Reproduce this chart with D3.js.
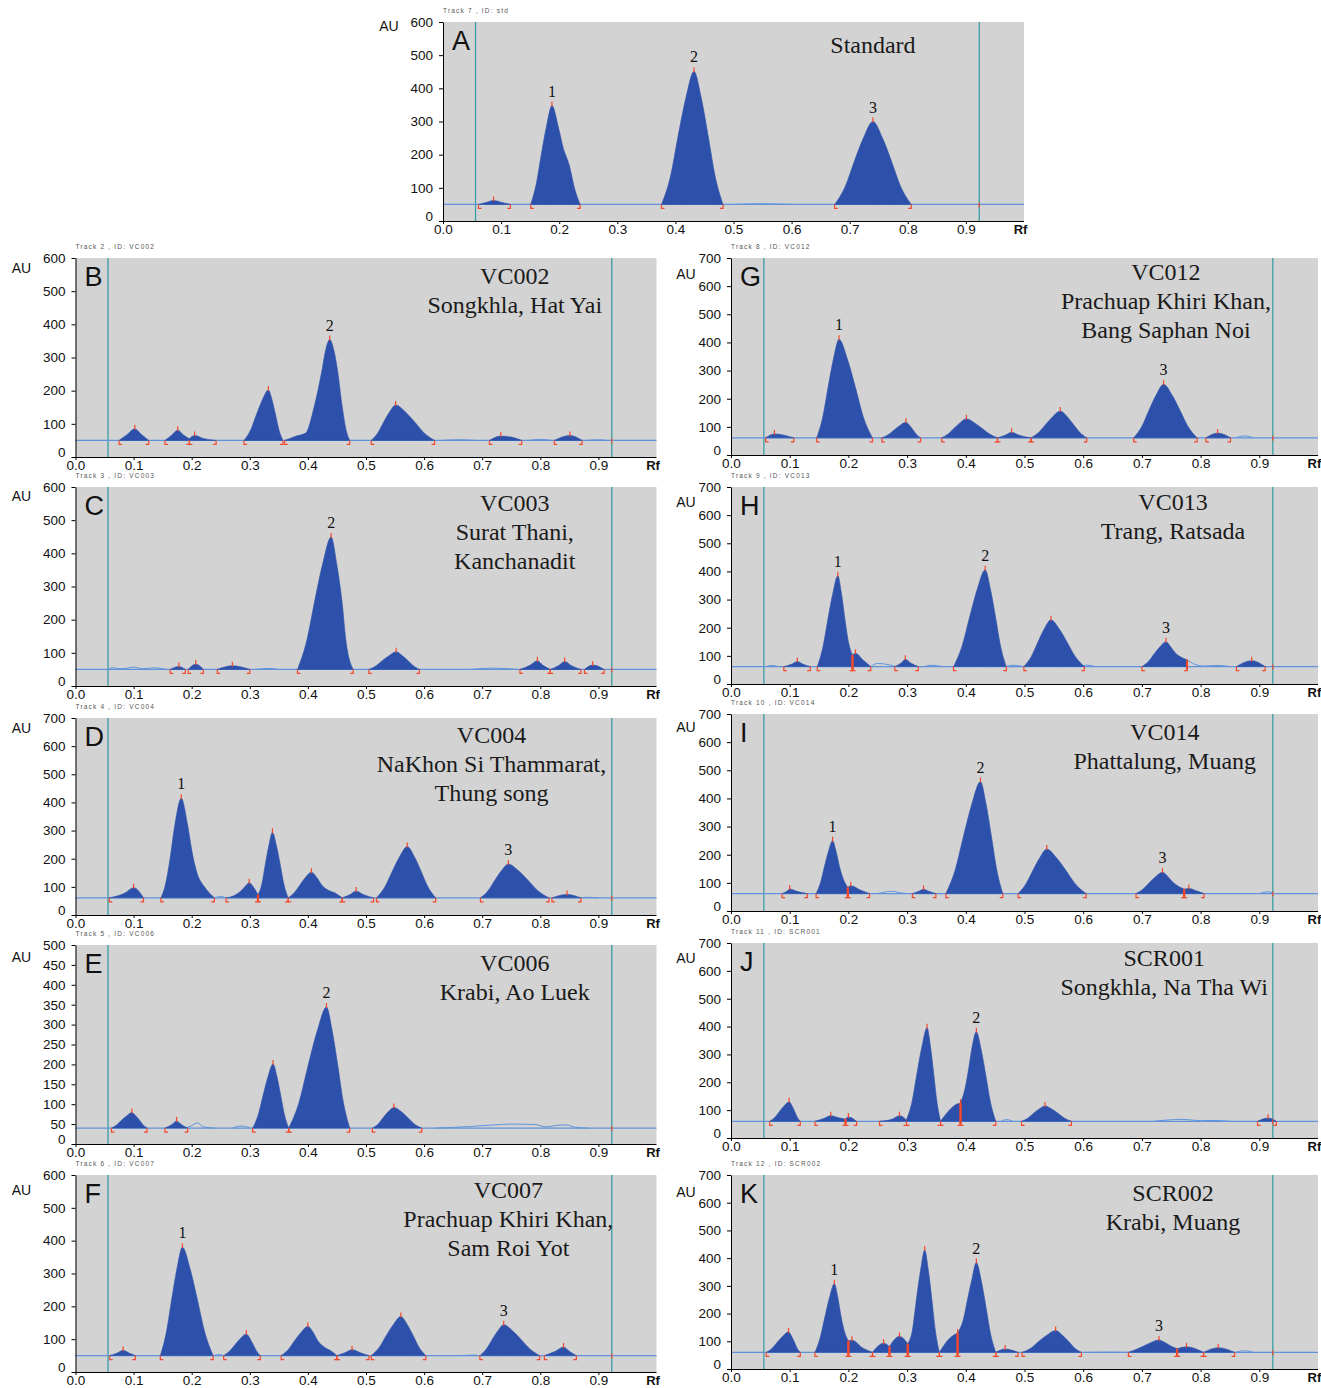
<!DOCTYPE html>
<html>
<head>
<meta charset="utf-8">
<script src="https://cdn.jsdelivr.net/npm/d3@7"></script>
<style>
  body { margin: 0; background: #fff; }
  svg { display: block; }
</style>
</head>
<body>
<div id="chart"></div>
<script>
// ---- data ----
const panelIds = ['A', 'B', 'C', 'D', 'E', 'F', 'G', 'H', 'I', 'J', 'K'];
const trackLabels = [
  'Track 7 , ID: std', 'Track 2 , ID: VC002', 'Track 3 , ID: VC003', 'Track 4 , ID: VC004',
  'Track 5 , ID: VC006', 'Track 6 , ID: VC007', 'Track 8 , ID: VC012', 'Track 9 , ID: VC013',
  'Track 10 , ID: VC014', 'Track 11 , ID: SCR001', 'Track 12 , ID: SCR002'
];
const titles = [
  ['Standard'],
  ['VC002', 'Songkhla, Hat Yai'],
  ['VC003', 'Surat Thani,', 'Kanchanadit'],
  ['VC004', 'NaKhon Si Thammarat,', 'Thung song'],
  ['VC006', 'Krabi, Ao Luek'],
  ['VC007', 'Prachuap Khiri Khan,', 'Sam Roi Yot'],
  ['VC012', 'Prachuap Khiri Khan,', 'Bang Saphan Noi'],
  ['VC013', 'Trang, Ratsada'],
  ['VC014', 'Phattalung, Muang'],
  ['SCR001', 'Songkhla, Na Tha Wi'],
  ['SCR002', 'Krabi, Muang']
];
const yMaxes = [600, 600, 600, 700, 500, 600, 700, 700, 700, 700, 700];
const yTickSteps = [100, 100, 100, 100, 50, 100, 100, 100, 100, 100, 100];
const baselines = [50, 50, 50, 61, 40, 50, 61, 62, 62, 60, 60];
const xTickValues = [0, 0.1, 0.2, 0.3, 0.4, 0.5, 0.6, 0.7, 0.8, 0.9];
const xTickLabels = ['0.0', '0.1', '0.2', '0.3', '0.4', '0.5', '0.6', '0.7', '0.8', '0.9'];
const trackEdges = [0.056, 0.923]; // application line / solvent front (Rf)

// each peak: [Rf, AU] points from its start marker to its end marker, optional compound tag
const peaksA = [
  { pts: [[.061, 50], [.074, 56], [.087, 62], [.1015, 56], [.116, 50]] },
  { pts: [[.151, 50], [.161, 116], [.169, 199], [.1784, 288], [.1875, 348], [.199, 280], [.207, 220], [.217, 170], [.227, 95], [.236, 50]], tag: '1' },
  { pts: [[.376, 50], [.392, 138], [.404, 250], [.418, 371], [.432, 451], [.4445, 371], [.457, 250], [.468, 138], [.482, 50]], tag: '2' },
  { pts: [[.674, 50], [.6925, 105], [.707, 175], [.7235, 250], [.74, 300], [.7565, 250], [.773, 175], [.7875, 105], [.806, 50]], tag: '3' }
];
const peaksB = [
  { pts: [[.075, 50], [.0885, 67], [.102, 85], [.114, 67], [.126, 50]] },
  { pts: [[.154, 50], [.165, 65], [.176, 81], [.186, 66], [.196, 55]] },
  { pts: [[.196, 55], [.205, 65], [.22, 56], [.242, 50]] },
  { pts: [[.29, 50], [.3018, 83], [.311, 126], [.3215, 172], [.332, 202], [.3383, 172], [.3445, 126], [.35, 83], [.357, 50]] },
  { pts: [[.36, 50], [.378, 62], [.396, 72], [.411, 153], [.4235, 255], [.431, 326], [.4375, 354], [.445, 320], [.4515, 255], [.459, 153], [.466, 80], [.472, 50]], tag: '2' },
  { pts: [[.509, 50], [.5208, 74], [.53, 104], [.5405, 136], [.551, 157], [.5678, 136], [.5845, 104], [.5992, 74], [.618, 50]] },
  { pts: [[.7125, 50], [.732, 63], [.75, 60], [.768, 50]] },
  { pts: [[.824, 50], [.851, 65], [.872, 50]] }
];
const peaksC = [
  { pts: [[.163, 50], [.178, 59], [.189, 50]] },
  { pts: [[.194, 50], [.207, 66], [.22, 50]] },
  { pts: [[.244, 50], [.27, 61], [.30, 50]] },
  { pts: [[.382, 50], [.3982, 138], [.411, 250], [.4255, 369], [.44, 449], [.4495, 369], [.459, 250], [.4654, 138], [.478, 50]], tag: '2' },
  { pts: [[.505, 50], [.5182, 62], [.5285, 77], [.5403, 92], [.552, 103], [.562, 92], [.572, 77], [.5808, 62], [.592, 50]] },
  { pts: [[.765, 50], [.783, 63], [.795, 76], [.804, 63], [.817, 50]] },
  { pts: [[.817, 50], [.832, 62], [.842, 74], [.853, 62], [.87, 50]] },
  { pts: [[.876, 50], [.89, 63], [.91, 50]] }
];
const peaksD = [
  { pts: [[.058, 61], [.085, 78], [.1, 97], [.117, 61]] },
  { pts: [[.147, 61], [.155, 110], [.162, 190], [.171, 320], [.182, 415], [.193, 320], [.201, 220], [.209, 150], [.222, 100], [.239, 61]], tag: '1' },
  { pts: [[.259, 61], [.274, 70], [.286, 88], [.293, 104], [.299, 115], [.306, 100], [.314, 72]] },
  { pts: [[.314, 72], [.321, 112], [.3265, 178], [.3328, 247], [.339, 294], [.3458, 247], [.3525, 178], [.3584, 112], [.366, 61]] },
  { pts: [[.366, 61], [.3772, 81], [.386, 106], [.396, 134], [.406, 152], [.415, 134], [.424, 106], [.435, 88], [.447, 78], [.459, 61]] },
  { pts: [[.459, 61], [.473, 73], [.483, 85], [.495, 73], [.513, 61]] },
  { pts: [[.518, 61], [.5328, 101], [.5445, 152], [.5578, 207], [.571, 243], [.5833, 207], [.5955, 152], [.6063, 101], [.62, 61]] },
  { pts: [[.697, 61], [.7104, 87], [.721, 121], [.733, 157], [.745, 181], [.7625, 157], [.78, 121], [.7954, 87], [.815, 61]], tag: '3' },
  { pts: [[.82, 61], [.846, 73], [.87, 61]] }
];
const peaksE = [
  { pts: [[.062, 40], [.0718, 49], [.0795, 60], [.0883, 71], [.097, 79], [.1035, 71], [.11, 60], [.1157, 49], [.123, 40]] },
  { pts: [[.154, 40], [.166, 49], [.174, 58], [.182, 49], [.193, 40]] },
  { pts: [[.305, 40], [.3148, 75], [.3225, 120], [.3313, 169], [.34, 201], [.3468, 169], [.3535, 120], [.3594, 75], [.367, 40]] },
  { pts: [[.367, 40], [.3852, 107], [.3995, 192], [.4158, 283], [.432, 344], [.442, 283], [.452, 192], [.4608, 107], [.472, 40]], tag: '2' },
  { pts: [[.511, 40], [.5214, 51], [.5295, 66], [.5388, 82], [.548, 92], [.56, 82], [.572, 66], [.5826, 51], [.596, 40]] }
];
const peaksF = [
  { pts: [[.059, 50], [.072, 58], [.082, 66], [.092, 58], [.103, 50]] },
  { pts: [[.146, 50], [.1566, 123], [.165, 215], [.1745, 314], [.184, 380], [.1973, 314], [.2105, 215], [.2222, 123], [.237, 50]], tag: '1' },
  { pts: [[.255, 50], [.2659, 65], [.2745, 83], [.2843, 103], [.294, 116], [.3, 103], [.306, 83], [.3113, 65], [.318, 50]] },
  { pts: [[.354, 50], [.3671, 70], [.377, 95], [.3885, 121], [.4, 139], [.409, 121], [.417, 95], [.428, 76], [.44, 64], [.45, 50]] },
  { pts: [[.45, 50], [.464, 59], [.476, 68], [.49, 59], [.505, 50]] },
  { pts: [[.509, 50], [.5233, 76], [.5345, 110], [.5473, 145], [.56, 169], [.5708, 145], [.5815, 110], [.591, 76], [.603, 50]] },
  { pts: [[.696, 50], [.7075, 71], [.7165, 97], [.7268, 125], [.737, 144], [.7525, 125], [.768, 97], [.7816, 71], [.799, 50]], tag: '3' },
  { pts: [[.807, 50], [.826, 63], [.84, 76], [.85, 63], [.862, 50]] }
];
const peaksG = [
  { pts: [[.059, 61], [.074, 75], [.107, 61]] },
  { pts: [[.146, 61], [.1566, 138], [.165, 236], [.1745, 341], [.184, 411], [.1983, 341], [.2125, 236], [.225, 138], [.241, 61]], tag: '1' },
  { pts: [[.257, 61], [.2685, 73], [.2775, 88], [.2878, 105], [.298, 116], [.3043, 105], [.3105, 88], [.316, 73], [.323, 61]] },
  { pts: [[.359, 61], [.3708, 76], [.38, 95], [.3905, 115], [.401, 129], [.4143, 115], [.4275, 95], [.4392, 76], [.454, 61]] },
  { pts: [[.454, 61], [.468, 71], [.478, 81], [.49, 71], [.511, 61]] },
  { pts: [[.511, 61], [.525, 82], [.536, 108], [.5485, 137], [.561, 156], [.5723, 137], [.5835, 108], [.5934, 82], [.606, 61]] },
  { pts: [[.686, 61], [.7003, 103], [.7115, 156], [.7243, 213], [.737, 251], [.7513, 213], [.7655, 156], [.778, 103], [.794, 61]], tag: '3' },
  { pts: [[.809, 61], [.829, 78], [.851, 61]] }
];
const peaksH = [
  { pts: [[.09, 62], [.104, 71], [.113, 80], [.122, 71], [.135, 62]] },
  { pts: [[.147, 62], [.1568, 133], [.1645, 224], [.1733, 320], [.182, 385], [.1883, 320], [.1945, 224], [.2, 150], [.207, 103]], tag: '1' },
  { pts: [[.207, 103], [.212, 109], [.225, 85], [.238, 62]] },
  { pts: [[.279, 62], [.29, 75], [.297, 88], [.306, 75], [.319, 62]] },
  { pts: [[.379, 62], [.3941, 138], [.406, 234], [.4195, 337], [.433, 406], [.442, 337], [.451, 234], [.4589, 138], [.469, 62]], tag: '2' },
  { pts: [[.499, 62], [.5119, 99], [.522, 145], [.5335, 195], [.545, 228], [.5593, 195], [.5735, 145], [.586, 99], [.602, 62]] },
  { pts: [[.70, 62], [.7115, 81], [.7205, 106], [.7308, 132], [.741, 150], [.749, 132], [.757, 110], [.767, 95], [.777, 86]], tag: '3' },
  { pts: [[.861, 62], [.887, 83], [.91, 62]] }
];
const peaksI = [
  { pts: [[.087, 62], [.095, 70], [.1, 78], [.112, 70], [.13, 62]] },
  { pts: [[.145, 62], [.1528, 103], [.159, 156], [.166, 212], [.173, 250], [.179, 212], [.185, 156], [.192, 110], [.199, 84]], tag: '1' },
  { pts: [[.199, 84], [.204, 90], [.22, 75], [.236, 62]] },
  { pts: [[.309, 62], [.32, 70], [.328, 77], [.337, 70], [.349, 62]] },
  { pts: [[.366, 62], [.3825, 150], [.3955, 261], [.4103, 380], [.425, 460], [.4345, 380], [.444, 261], [.4524, 150], [.463, 62]], tag: '2' },
  { pts: [[.489, 62], [.5027, 97], [.5135, 141], [.5258, 188], [.538, 220], [.5548, 188], [.5715, 141], [.5862, 97], [.605, 62]] },
  { pts: [[.69, 62], [.7026, 79], [.7125, 100], [.7238, 123], [.735, 138], [.744, 123], [.752, 104], [.762, 88], [.772, 78]], tag: '3' },
  { pts: [[.772, 78], [.78, 80], [.795, 70], [.806, 62]] }
];
const peaksJ = [
  { pts: [[.066, 60], [.0752, 75], [.0825, 95], [.0908, 116], [.099, 130], [.1038, 116], [.1085, 95], [.1127, 75], [.118, 60]] },
  { pts: [[.143, 60], [.158, 70], [.17, 80], [.185, 72], [.195, 68]] },
  { pts: [[.195, 68], [.2, 75], [.214, 60]] },
  { pts: [[.253, 60], [.275, 68], [.287, 80], [.299, 65]] },
  { pts: [[.299, 65], [.3088, 134], [.3165, 228], [.3253, 329], [.334, 396], [.3398, 329], [.3455, 228], [.3506, 134], [.357, 60]] },
  { pts: [[.357, 60], [.372, 100], [.385, 122], [.391, 125]] },
  { pts: [[.391, 125], [.399, 180], [.405, 250], [.411, 330], [.418, 381], [.4263, 316], [.4345, 220], [.4418, 131], [.451, 60]], tag: '2' },
  { pts: [[.495, 60], [.5062, 72], [.515, 88], [.525, 104], [.535, 115], [.5463, 104], [.5575, 88], [.5674, 72], [.58, 60]] },
  { pts: [[.897, 60], [.915, 72], [.929, 60]] }
];
const peaksK = [
  { pts: [[.06, 60], [.0706, 76], [.079, 97], [.0885, 119], [.098, 134], [.103, 119], [.108, 97], [.1124, 76], [.118, 60]] },
  { pts: [[.143, 60], [.1522, 115], [.1595, 184], [.1678, 258], [.176, 308], [.182, 258], [.188, 184], [.194, 130], [.2, 102]], tag: '1' },
  { pts: [[.2, 102], [.206, 104], [.225, 75], [.241, 60]] },
  { pts: [[.241, 60], [.26, 93], [.27, 81]] },
  { pts: [[.27, 81], [.287, 118], [.301, 91]] },
  { pts: [[.301, 91], [.3091, 141], [.3155, 245], [.3228, 355], [.33, 429], [.3363, 355], [.3425, 245], [.348, 141], [.355, 60]] },
  { pts: [[.355, 60], [.372, 110], [.386, 130]] },
  { pts: [[.386, 130], [.396, 180], [.403, 252], [.41, 320], [.418, 384], [.4263, 319], [.4345, 222], [.4418, 131], [.451, 60]], tag: '2' },
  { pts: [[.451, 60], [.467, 72], [.489, 60]] },
  { pts: [[.496, 60], [.512, 77], [.5245, 100], [.5388, 123], [.553, 139], [.564, 123], [.575, 100], [.5847, 77], [.597, 60]] },
  { pts: [[.677, 60], [.6896, 70], [.703, 83], [.716, 96], [.729, 105], [.737, 98], [.745, 88], [.752, 80], [.76, 73]], tag: '3' },
  { pts: [[.76, 73], [.776, 80], [.805, 60]] },
  { pts: [[.805, 60], [.83, 77], [.858, 60]] }
];
const allPeaks = [peaksA, peaksB, peaksC, peaksD, peaksE, peaksF, peaksG, peaksH, peaksI, peaksJ, peaksK];

// unintegrated bits of the scan trace (thin line)
const tracesA = [[[.5, 50], [.55, 52], [.6, 50]]];
const tracesB = [[[.63, 50], [.66, 52], [.69, 50]], [[.78, 50], [.8, 53], [.82, 50]], [[.88, 50], [.9, 52], [.915, 50]]];
const tracesC = [[[.056, 50], [.065, 55], [.075, 52], [.09, 54], [.1, 57], [.115, 52], [.135, 55], [.155, 50]],
  [[.31, 50], [.33, 53], [.35, 50]], [[.68, 50], [.72, 54], [.76, 50]]];
const tracesD = [[[.239, 61], [.25, 66], [.259, 61]], [[.87, 61], [.88, 63], [.9, 61]]];
const tracesE = [[[.19, 40], [.2, 46], [.21, 53], [.22, 43], [.24, 40]], [[.27, 40], [.285, 45], [.3, 41]],
  [[.62, 40], [.68, 44], [.72, 48], [.75, 50], [.79, 49], [.81, 43], [.83, 47], [.845, 48], [.86, 42], [.88, 40]]];
const tracesF = [[[.237, 50], [.248, 53], [.255, 50]], [[.66, 50], [.69, 52]]];
const tracesG = [[[.86, 61], [.875, 68], [.89, 61]]];
const tracesH = [[[.06, 62], [.07, 66], [.08, 62]], [[.238, 62], [.25, 73], [.27, 68], [.28, 62]],
  [[.33, 62], [.34, 67], [.36, 62]], [[.469, 62], [.48, 67], [.499, 62]], [[.595, 62], [.607, 67], [.62, 62]],
  [[.777, 86], [.79, 70], [.805, 64], [.83, 66], [.85, 62]]];
const tracesI = [[[.25, 62], [.275, 70], [.29, 64], [.3, 62]], [[.9, 62], [.915, 68], [.925, 62]]];
const tracesJ = [[[.46, 60], [.47, 66], [.48, 60]], [[.72, 60], [.77, 67], [.8, 62], [.82, 63], [.85, 60]]];
const tracesK = [[[.86, 60], [.875, 66], [.89, 60]], [[.6, 60], [.65, 61], [.677, 60]]];
const allTraces = [tracesA, tracesB, tracesC, tracesD, tracesE, tracesF, tracesG, tracesH, tracesI, tracesJ, tracesK];

// ---- layout ----
const W = 1321, H = 1388;
const boxes = [
  { x: 443, k: 581, top: 22, bottom: 221 },
  { x: 75.5, k: 581, top: 258, bottom: 457 },
  { x: 75.5, k: 581, top: 487, bottom: 686 },
  { x: 75.5, k: 581, top: 718, bottom: 915 },
  { x: 75.5, k: 581, top: 945, bottom: 1144 },
  { x: 75.5, k: 581, top: 1175, bottom: 1372 },
  { x: 731, k: 587, top: 258, bottom: 455 },
  { x: 731, k: 587, top: 487, bottom: 684 },
  { x: 731, k: 587, top: 714, bottom: 911 },
  { x: 731, k: 587, top: 943, bottom: 1138 },
  { x: 731, k: 587, top: 1175, bottom: 1369 }
];
const titleRf = [0.74, 0.756, 0.756, 0.716, 0.756, 0.745, 0.741, 0.753, 0.739, 0.738, 0.753];
const titleDy = [23, 18, 16, 17, 18, 15, 14, 15, 18, 15, 18];
const auDy = [9, 15, 14, 15, 17, 20, 21, 20, 18, 20, 22];

const sans = '"Liberation Sans", Arial, sans-serif';
const serif = '"Liberation Serif", "Times New Roman", serif';
const PEAK = '#2d50aa', BASE = '#5f93dc', TEAL = '#3b9ea6', RED = '#f2482b', PLOT_BG = '#d3d3d3';

const svg = d3.select('#chart').append('svg')
  .attr('width', W)
  .attr('height', H)
  .style('background', '#fff');

panelIds.forEach((id, i) => {
  const box = boxes[i];
  const base = baselines[i];
  const yMax = yMaxes[i];

  const x = d3.scaleLinear().domain([0, 1]).range([box.x, box.x + box.k]);
  const y = d3.scaleLinear().domain([0, yMax]).range([box.bottom, box.top]);
  const g = svg.append('g').attr('class', 'panel-' + id);

  // plot background
  g.append('rect')
    .attr('x', x(0)).attr('y', y(yMax))
    .attr('width', x(1) - x(0)).attr('height', y(0) - y(yMax))
    .attr('fill', PLOT_BG);

  // application line / solvent front
  trackEdges.forEach(rf => {
    g.append('line')
      .attr('x1', x(rf)).attr('x2', x(rf))
      .attr('y1', y(yMax)).attr('y2', y(0))
      .attr('stroke', TEAL).attr('stroke-width', 1.3);
  });

  // baseline
  g.append('line')
    .attr('x1', x(0)).attr('x2', x(1))
    .attr('y1', y(base)).attr('y2', y(base))
    .attr('stroke', BASE).attr('stroke-width', 1.2);

  // thin scan trace
  const traceLine = d3.line()
    .x(d => x(d[0])).y(d => y(d[1]))
    .curve(d3.curveMonotoneX);
  allTraces[i].forEach(seg => {
    g.append('path').datum(seg)
      .attr('d', traceLine)
      .attr('fill', 'none')
      .attr('stroke', BASE)
      .attr('stroke-width', 1);
  });

  // integrated peaks
  const area = d3.area()
    .x(d => x(d[0]))
    .y0(y(base))
    .y1(d => y(d[1]))
    .curve(d3.curveMonotoneX);

  const peaks = allPeaks[i];
  peaks.forEach(p => {
    g.append('path').datum(p.pts)
      .attr('d', area)
      .attr('fill', PEAK)
      .attr('stroke', PEAK)
      .attr('stroke-width', 0.6);
  });

  // integration markers
  const yb = y(base);
  peaks.forEach(p => {
    const ends = [[p.pts[0], 1], [p.pts[p.pts.length - 1], -1]];
    ends.forEach(([pt, dir]) => {
      const px = x(pt[0]);
      if (pt[1] - base > 5) {
        g.append('line')
          .attr('x1', px).attr('x2', px)
          .attr('y1', yb + 3).attr('y2', y(pt[1]))
          .attr('stroke', RED).attr('stroke-width', 2);
      }
      g.append('path')
        .attr('d', `M${px},${yb}V${yb + 4}h${dir * 3}`)
        .attr('fill', 'none')
        .attr('stroke', RED).attr('stroke-width', 1.2);
    });
    const top = p.pts.reduce((a, b) => (b[1] > a[1] ? b : a));
    g.append('line')
      .attr('x1', x(top[0])).attr('x2', x(top[0]))
      .attr('y1', y(top[1]) + 1).attr('y2', y(top[1]) - 4)
      .attr('stroke', RED).attr('stroke-width', 1.2);
    if (p.tag) {
      g.append('text')
        .attr('x', x(top[0])).attr('y', y(top[1]) - 9)
        .attr('text-anchor', 'middle')
        .attr('font-family', serif).attr('font-size', 16)
        .attr('fill', '#111')
        .text(p.tag);
    }
  });
  // marker at the solvent front
  g.append('line')
    .attr('x1', x(trackEdges[1])).attr('x2', x(trackEdges[1]))
    .attr('y1', yb - 2).attr('y2', yb + 3)
    .attr('stroke', RED).attr('stroke-width', 1.2);

  // axes
  const yTicks = d3.range(0, yMax + 1, yTickSteps[i]);
  const yAxis = d3.axisLeft(y).tickValues(yTicks).tickSize(4).tickSizeOuter(0).tickPadding(6);
  const ya = g.append('g').attr('transform', `translate(${x(0)},0)`).call(yAxis);
  ya.selectAll('text').attr('font-family', sans).attr('font-size', 13.5).attr('fill', '#111')
    .attr('dy', d => (d === 0 ? '-0.05em' : '0.32em'));
  ya.selectAll('line, path').attr('stroke', '#000');

  const xAxis = d3.axisBottom(x).tickValues(xTickValues).tickSize(3).tickSizeOuter(0).tickPadding(0)
    .tickFormat((d, j) => xTickLabels[j]);
  const xa = g.append('g').attr('transform', `translate(0,${y(0)})`).call(xAxis);
  xa.selectAll('text').attr('font-family', sans).attr('font-size', 13.5).attr('fill', '#111');
  xa.selectAll('line, path').attr('stroke', '#000');
  xa.select('path.domain').attr('d', `M${x(0)},0.5H${x(1)}`);

  g.append('text')
    .attr('x', x(0.994)).attr('y', y(0) + 13)
    .attr('text-anchor', 'middle')
    .attr('font-family', sans).attr('font-size', 13).attr('font-weight', 'bold')
    .attr('fill', '#111')
    .text('Rf');

  g.append('text')
    .attr('x', x(0) - (i >= 6 ? 45 : 54)).attr('y', box.top + auDy[i])
    .attr('text-anchor', 'middle')
    .attr('font-family', sans).attr('font-size', 14)
    .attr('fill', '#111')
    .text('AU');

  // tiny track caption
  g.append('text')
    .attr('x', x(0)).attr('y', box.top - 9)
    .attr('font-family', sans).attr('font-size', 6.5)
    .attr('letter-spacing', 1.2)
    .attr('fill', '#555')
    .text(trackLabels[i]);

  // panel letter
  g.append('text')
    .attr('x', x(0) + 9).attr('y', box.top + 28)
    .attr('font-family', sans).attr('font-size', 27)
    .attr('fill', '#111')
    .text(id);

  // sample title
  titles[i].forEach((line, j) => {
    g.append('text')
      .attr('x', x(titleRf[i])).attr('y', box.top + titleDy[i] + j * 29 + 8)
      .attr('text-anchor', 'middle')
      .attr('font-family', serif).attr('font-size', 24)
      .attr('fill', '#1a1a1a')
      .text(line);
  });
});
</script>
</body>
</html>
